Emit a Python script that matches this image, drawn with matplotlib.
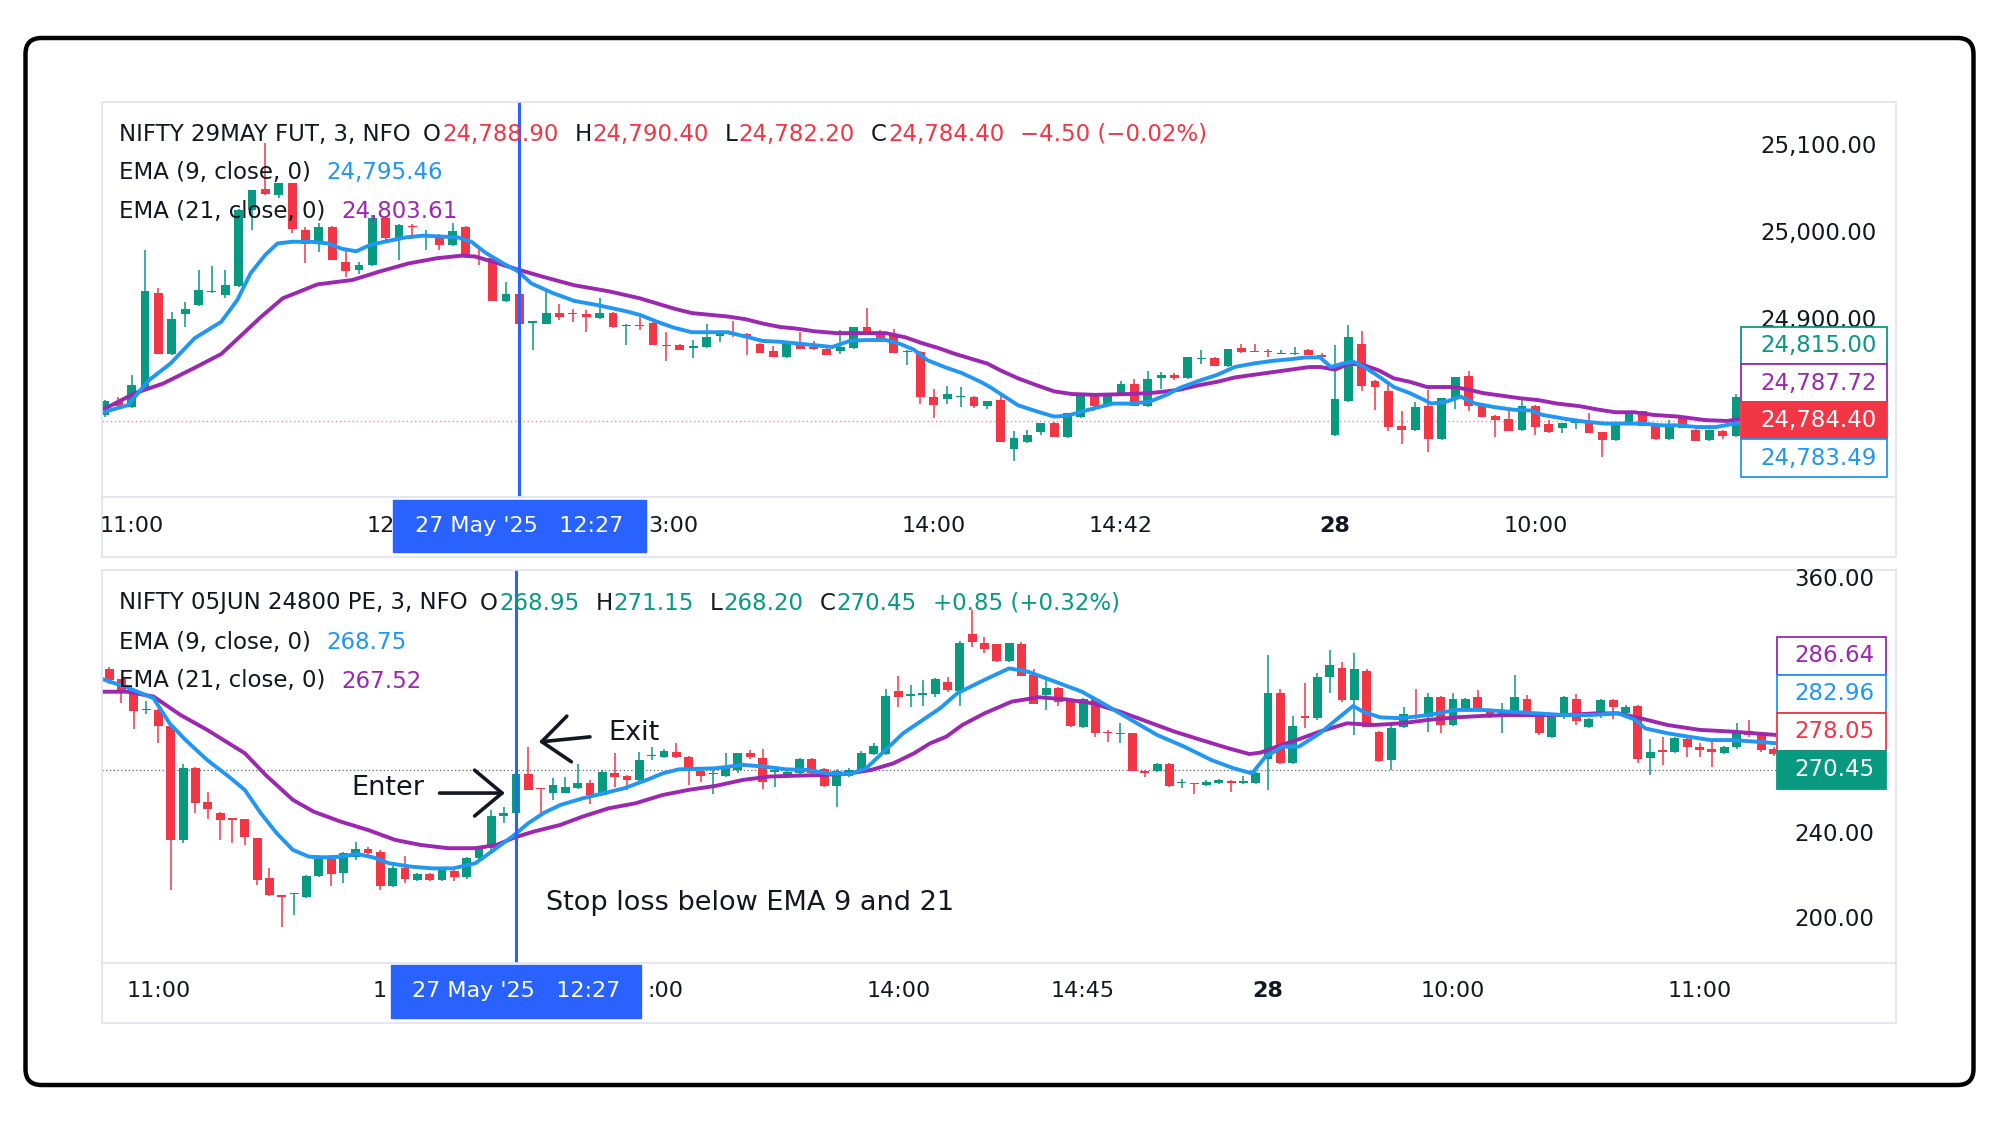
import numpy as np
import matplotlib
matplotlib.use("Agg")
import matplotlib.pyplot as plt
import matplotlib.transforms as mtransforms
from matplotlib.patches import Rectangle, FancyBboxPatch

# ---------------- data ----------------
# NIFTY 29MAY FUT, 3-minute candles (open, high, low, close)
fut_candles = [
    (24791, 24808, 24789, 24807), (24806, 24812, 24799, 24801), (24800, 24837, 24799, 24825),
    (24820, 24980, 24818, 24933), (24931, 24937, 24861, 24861), (24861, 24909, 24860, 24901),
    (24907, 24921, 24892, 24913), (24917, 24957, 24916, 24935), (24932, 24962, 24931, 24933),
    (24929, 24957, 24925, 24940), (24939, 25028, 24938, 25026), (25026, 25050, 25004, 25050),
    (25051, 25103, 25044, 25045), (25044, 25057, 25040, 25057), (25057, 25058, 25000, 25005),
    (25003, 25007, 24965, 24987), (24987, 25011, 24978, 25007), (25007, 25008, 24969, 24969),
    (24967, 24980, 24950, 24956), (24957, 24967, 24953, 24963), (24963, 25021, 24962, 25017),
    (25017, 25019, 24992, 24994), (24992, 25010, 24969, 25009), (25008, 25010, 24993, 25007),
    (24996, 25003, 24980, 24997), (24998, 24999, 24981, 24986), (24986, 25011, 24985, 25002),
    (25007, 25008, 24972, 24973), (24973, 24982, 24963, 24971), (24971, 24972, 24922, 24922),
    (24922, 24944, 24921, 24930), (24930, 24932, 24883, 24896), (24897, 24898, 24865, 24897),
    (24896, 24933, 24895, 24908), (24908, 24919, 24900, 24904), (24908, 24913, 24898, 24907),
    (24907, 24912, 24886, 24904), (24902, 24925, 24901, 24908), (24908, 24909, 24891, 24892),
    (24893, 24895, 24871, 24894), (24894, 24904, 24888, 24893), (24897, 24898, 24871, 24871),
    (24871, 24886, 24853, 24870), (24871, 24873, 24866, 24866), (24868, 24877, 24856, 24869),
    (24869, 24896, 24868, 24880), (24882, 24887, 24875, 24886), (24885, 24899, 24881, 24883),
    (24884, 24885, 24860, 24879), (24873, 24874, 24862, 24862), (24864, 24870, 24858, 24858),
    (24857, 24875, 24856, 24875), (24872, 24886, 24867, 24867), (24868, 24876, 24866, 24867),
    (24867, 24868, 24860, 24860), (24864, 24889, 24861, 24869), (24868, 24892, 24867, 24892),
    (24892, 24914, 24883, 24885), (24885, 24889, 24876, 24876), (24884, 24890, 24862, 24862),
    (24863, 24866, 24848, 24864), (24863, 24864, 24804, 24811), (24812, 24821, 24787, 24802),
    (24809, 24824, 24804, 24815), (24811, 24823, 24800, 24812), (24812, 24813, 24799, 24801),
    (24801, 24806, 24798, 24807), (24808, 24816, 24760, 24760), (24752, 24772, 24738, 24764),
    (24760, 24774, 24759, 24768), (24771, 24782, 24768, 24782), (24782, 24783, 24765, 24765),
    (24766, 24793, 24764, 24793), (24789, 24816, 24787, 24814), (24814, 24816, 24795, 24801),
    (24802, 24815, 24801, 24814), (24814, 24830, 24813, 24826), (24826, 24832, 24801, 24801),
    (24801, 24841, 24800, 24832), (24833, 24840, 24821, 24837), (24837, 24839, 24831, 24833),
    (24833, 24858, 24832, 24858), (24855, 24866, 24850, 24856), (24856, 24857, 24847, 24847),
    (24847, 24867, 24846, 24867), (24868, 24872, 24862, 24863), (24864, 24873, 24863, 24863),
    (24864, 24867, 24858, 24863), (24861, 24866, 24861, 24862), (24861, 24869, 24860, 24862),
    (24866, 24867, 24860, 24860), (24860, 24862, 24855, 24858), (24768, 24871, 24767, 24809),
    (24807, 24894, 24806, 24880), (24872, 24887, 24818, 24824), (24830, 24831, 24797, 24823),
    (24818, 24825, 24772, 24777), (24778, 24795, 24758, 24774), (24774, 24806, 24773, 24800),
    (24801, 24820, 24748, 24763), (24763, 24810, 24762, 24810), (24810, 24834, 24798, 24834),
    (24836, 24841, 24796, 24801), (24802, 24803, 24789, 24789), (24790, 24791, 24766, 24785),
    (24786, 24795, 24772, 24772), (24774, 24812, 24773, 24801), (24801, 24802, 24768, 24777),
    (24781, 24785, 24770, 24771), (24776, 24782, 24770, 24782), (24782, 24783, 24775, 24782.5),
    (24784, 24793, 24770, 24770), (24771, 24771, 24742, 24762), (24762, 24783, 24761, 24782),
    (24782, 24795, 24781, 24795), (24795, 24796, 24778, 24778), (24778, 24779, 24762, 24763),
    (24763, 24785, 24762, 24779), (24789, 24790, 24776, 24776), (24774, 24775, 24761, 24761),
    (24762, 24774, 24761, 24774), (24773, 24774, 24763, 24767), (24767, 24815, 24766, 24812),
]
fut_ema9 = [
    (-0.4, 24793), (1.7, 24802), (3.3, 24831), (4.9, 24850), (6.7, 24879), (8.7, 24898),
    (9.9, 24923), (10.9, 24954), (12.0, 24975), (12.9, 24988), (14.0, 24990), (15.4, 24990),
    (16.7, 24988), (17.7, 24982), (18.8, 24979), (19.8, 24986), (20.9, 24990), (22.5, 24995),
    (23.8, 24997), (25.1, 24996), (26.4, 24995), (27.4, 24990), (28.5, 24977), (29.8, 24965),
    (30.9, 24956), (31.9, 24942), (33.5, 24931), (35.1, 24922), (36.9, 24917), (39.0, 24910),
    (40.0, 24906), (41.3, 24898), (42.6, 24891), (43.9, 24886), (45.2, 24886), (46.6, 24886),
    (47.9, 24881), (49.2, 24876), (50.5, 24875), (51.8, 24873), (53.1, 24871), (54.4, 24869),
    (55.7, 24876), (56.8, 24877), (58.4, 24877), (59.4, 24873), (60.5, 24866), (61.5, 24854),
    (62.8, 24846), (64.1, 24839), (65.5, 24829), (66.2, 24823), (67.3, 24812), (68.3, 24802),
    (69.7, 24795), (71.0, 24789), (72.0, 24790), (73.1, 24795), (74.1, 24799), (75.4, 24804),
    (76.7, 24804), (78.1, 24806), (79.4, 24814), (80.4, 24822), (81.8, 24830), (83.2, 24837),
    (84.5, 24846), (85.9, 24850), (87.3, 24853), (88.7, 24855), (89.8, 24857), (90.9, 24857),
    (91.7, 24846), (92.6, 24850), (93.4, 24852), (94.2, 24846), (95.3, 24835), (96.4, 24823),
    (97.6, 24816), (98.7, 24808), (99.2, 24804), (100.3, 24806), (101.4, 24812), (102.5, 24804),
    (103.9, 24800), (105.3, 24797), (106.7, 24796), (107.5, 24791), (109.4, 24786), (110.8, 24783),
    (112.2, 24781), (113.6, 24781), (115.0, 24781), (116.4, 24779), (117.7, 24779), (119.1, 24777),
    (120.5, 24777), (121.9, 24781), (122.3, 24782),
]
fut_ema21 = [
    (-0.4, 24795), (2.25, 24816), (4.35, 24827), (6.7, 24845), (8.7, 24861), (10.1, 24881),
    (11.7, 24904), (13.3, 24925), (15.9, 24941), (18.5, 24946), (20.6, 24956), (22.7, 24965),
    (24.8, 24971), (26.7, 24974), (27.7, 24973), (29.0, 24967), (30.9, 24958), (32.7, 24950),
    (35.1, 24940), (37.7, 24933), (40.0, 24925), (41.3, 24919), (42.6, 24913), (43.9, 24908),
    (46.6, 24904), (47.9, 24901), (49.2, 24896), (50.5, 24892), (51.8, 24890), (53.1, 24887),
    (54.7, 24885), (56.3, 24885), (58.4, 24885), (59.9, 24880), (61.0, 24874), (62.3, 24868),
    (63.6, 24861), (64.9, 24855), (66.0, 24850), (67.0, 24842), (68.3, 24833), (69.7, 24825),
    (71.0, 24818), (72.3, 24815), (74.1, 24814), (76.7, 24815), (78.1, 24816), (79.4, 24818),
    (80.4, 24820), (81.8, 24825), (83.2, 24829), (84.5, 24834), (85.9, 24837), (87.3, 24840),
    (88.7, 24843), (90.1, 24846), (90.9, 24846), (92.0, 24843), (93.1, 24850), (94.2, 24848),
    (95.3, 24842), (96.4, 24833), (97.6, 24829), (98.9, 24823), (99.8, 24823), (100.9, 24823),
    (102.0, 24820), (103.1, 24816), (104.5, 24813), (105.9, 24810), (107.2, 24808), (108.6, 24804),
    (110.3, 24801), (111.7, 24797), (113.0, 24794), (114.4, 24794), (115.8, 24791), (117.7, 24789),
    (119.7, 24785), (121.3, 24784), (122.3, 24786),
]

# NIFTY 05JUN 24800 PE, 3-minute candles (open, high, low, close)
opt_candles = [
    (318, 319, 311, 313), (313.2, 313.5, 301.8, 307.3), (307, 307.5, 289.6, 298),
    (298.5, 303, 297, 299), (298.7, 299, 283.3, 291.1), (291.1, 291.5, 213.8, 237.4),
    (237.4, 273.2, 235.8, 271.2), (271.5, 272, 250, 255), (255.5, 260.2, 247.1, 251.8),
    (250, 250.5, 237.4, 246.8), (247.2, 247.5, 235.8, 247), (247.2, 247.5, 235, 239),
    (238.2, 238.5, 216, 218.5), (219.3, 224, 211, 211.5), (210.8, 211, 196.5, 210.7),
    (211.8, 212.5, 202, 212), (210.7, 221, 210, 220.4), (220.4, 229, 220, 228.3),
    (228.3, 229, 215.7, 221.4), (221.7, 231.5, 217, 231.1), (229.2, 236.6, 228, 233),
    (233, 234.2, 230.3, 231.1), (231.9, 232.5, 213.8, 215.7), (215.7, 225, 215, 224.3),
    (224, 229.8, 217.3, 218.8), (218.5, 222, 218, 221.4), (221.4, 222, 218, 218.5),
    (218.5, 224, 218, 223.2), (222.9, 224.8, 218.2, 219.8), (219.8, 229.5, 219, 228.7),
    (228.7, 234.6, 228, 233.5), (233.5, 251.5, 231.9, 248.7), (248.7, 253, 245.6, 250),
    (250, 268.8, 249.5, 268.5), (268.5, 281.4, 261, 261), (261.4, 261.7, 250, 261.2),
    (259.3, 266.5, 256.2, 263.3), (259.7, 267.2, 259.7, 262.5), (261.8, 273.2, 261.3, 264.4),
    (264.1, 265.7, 254.4, 258.6), (258.6, 270.2, 258, 269.6), (268.8, 278.6, 262.5, 267.2),
    (267.6, 268, 261, 265.7), (265.7, 279, 265, 275.1), (277, 281.4, 275.1, 277.2),
    (276.4, 280.1, 276, 279.5), (279, 283.3, 276, 276.4), (276.4, 276.8, 263.3, 270.1),
    (270.1, 271.2, 264.9, 267.6), (268.5, 272, 259.1, 268.7), (267.6, 278.3, 267.3, 271.2),
    (270.4, 278.6, 268.8, 278.3), (278.6, 279.8, 275.4, 276.7), (275.9, 280.1, 261.3, 264.9),
    (269.6, 270.4, 262.5, 269.9), (267.3, 270.4, 266.8, 269.6), (269.1, 276, 268.5, 275.4),
    (275.4, 276, 268.5, 269.1), (270.7, 271.2, 262.5, 262.9), (262.8, 271, 253.1, 270.1),
    (267.6, 271.2, 267, 270.4), (270.1, 279.5, 269.6, 278.6), (277.9, 283.3, 277.4, 281.7),
    (277.9, 308.4, 277.4, 305.3), (307.8, 314.7, 300, 305), (305.5, 310.5, 300, 306.2),
    (305.8, 313, 300.5, 306.5), (306.2, 314, 305, 313.2), (312, 314.1, 307.3, 308.1),
    (307.8, 331, 300.6, 330.4), (334.4, 345.9, 328.6, 330.9), (330.1, 333.3, 325.4, 327.3),
    (329.7, 330, 321.5, 322), (322, 330.5, 321.5, 330.1), (329.7, 330.9, 314.5, 314.7),
    (315.2, 317.9, 301.3, 301.5), (305.8, 312.8, 298.7, 308.9), (308.9, 309.7, 300.6, 302.6),
    (303.4, 304, 290.8, 291.1), (290.5, 304.2, 290, 303.7), (303.7, 304, 285.8, 287.7),
    (287.9, 289.3, 283.8, 287.7), (287.4, 292.7, 283, 287.6), (287.7, 288, 269.8, 270.1),
    (269.3, 270.4, 266.9, 269.1), (270.1, 273.9, 269.6, 273.2), (273.2, 273.5, 262.5, 262.9),
    (264.1, 266, 261.8, 264.2), (263.8, 264.4, 259, 263.7), (263.3, 265.5, 262.8, 264.9),
    (264.4, 266, 263.8, 265.7), (265.4, 265.7, 260.2, 264.1), (264.4, 267.6, 263.8, 264.6),
    (264.4, 269.3, 264, 268.8), (275.4, 324.6, 261, 306.9), (306.9, 308.4, 273.2, 273.9),
    (273.9, 295.9, 273, 291.1), (295.9, 311.6, 290, 294.8), (294.8, 316, 294, 314.4),
    (314.4, 327, 306.6, 319.9), (318.3, 321.5, 302.6, 303.4), (303.4, 325.4, 286.9, 317.9),
    (317.2, 318, 290.5, 290.8), (288.5, 289, 274, 274.8), (275.1, 292.4, 270.4, 290),
    (290.5, 300.3, 290, 296.8), (295.6, 308.4, 294.3, 295.2), (295.5, 306.9, 288.5, 305),
    (305, 305.5, 287.7, 291.6), (291.6, 306.6, 291, 303.7), (298.9, 304.5, 298.5, 303.7),
    (304.7, 308.1, 298, 298.7), (298.7, 299.2, 295, 295.6), (295.2, 301.8, 287.7, 298.4),
    (296.8, 315.2, 296, 304.7), (303.7, 305.8, 296, 296.3), (296.3, 296.8, 287, 287.7),
    (286.1, 297, 285.5, 296.3), (295.2, 305.3, 294.5, 304.7), (303.7, 306.2, 291.6, 293.7),
    (290.7, 294.8, 290, 294.3), (295.9, 304, 295, 303.4), (303.4, 304, 294.3, 300),
    (297.4, 300.8, 297, 300.3), (300.6, 301, 273.9, 275.4), (275.9, 284.9, 268, 279),
    (279.1, 286.1, 272.7, 279), (279, 286, 278.5, 285.3), (284.9, 285.5, 276.7, 281.4),
    (281.4, 283, 276.7, 279.8), (280.2, 284.6, 272, 279), (278.6, 281.8, 278, 281.1),
    (281.1, 292.4, 280.5, 288.9), (288.9, 294, 286, 286.9), (287.7, 288.5, 279, 279.8),
    (280.2, 281, 277, 277.9),
]
opt_ema9 = [
    (-0.74, 313.6), (1.43, 309.4), (3.6, 304.2), (4.9, 292.4), (6.2, 284.5), (7.95, 275.1),
    (9.7, 267.3), (11.0, 261.0), (12.3, 250.0), (13.6, 240.5), (14.9, 232.7), (16.2, 229.5),
    (17.5, 229.2), (18.8, 229.5), (20.1, 230.8), (21.4, 229.2), (22.7, 226.4), (24.5, 224.8),
    (26.2, 224.0), (27.9, 224.0), (29.7, 226.4), (31.4, 233.5), (32.7, 239.0), (34.0, 245.3),
    (35.3, 250.3), (36.6, 253.9), (38.4, 257.0), (40.1, 259.4), (41.8, 261.8), (43.6, 265.7),
    (44.9, 268.8), (46.2, 270.7), (47.5, 270.9), (49.2, 271.2), (51.4, 272.8), (53.1, 272.0),
    (54.9, 270.7), (56.6, 270.4), (58.3, 268.8), (60.1, 268.5), (61.4, 271.2), (62.7, 278.3),
    (64.4, 287.7), (66.2, 294.8), (67.4, 299.5), (68.8, 306.6), (71.0, 312.9), (73.0, 318.3),
    (74.5, 316.8), (76.7, 312.1), (78.9, 307.3), (80.6, 301.8), (82.9, 294.0), (85.0, 286.9),
    (87.2, 281.4), (89.4, 275.1), (91.2, 271.2), (92.7, 268.8), (93.8, 276.7), (95.2, 281.4),
    (96.5, 281.4), (98.2, 287.7), (100.0, 296.3), (100.9, 300.6), (101.7, 297.9), (103.1, 295.2),
    (104.8, 294.8), (107.0, 296.3), (109.2, 298.7), (111.4, 298.7), (113.6, 297.9), (115.8, 297.1),
    (118.0, 296.3), (120.2, 296.3), (122.4, 297.1), (123.7, 294.3), (124.6, 290.0), (126.4, 287.7),
    (128.1, 286.1), (129.9, 284.5), (131.6, 284.5), (133.4, 283.8), (135.2, 283.0),
]
opt_ema21 = [
    (-0.74, 307.3), (1.43, 307.3), (3.6, 305.0), (5.8, 296.3), (7.95, 289.3), (11.0, 278.3),
    (12.7, 268.0), (14.9, 256.3), (16.6, 250.7), (18.8, 246.0), (21.0, 242.1), (23.2, 237.4),
    (25.3, 235.0), (27.5, 233.5), (29.7, 233.5), (31.4, 235.0), (32.9, 238.6), (34.4, 241.3),
    (36.6, 244.5), (38.4, 248.4), (40.5, 252.3), (42.7, 254.7), (44.9, 258.6), (47.0, 261.0),
    (49.2, 262.9), (51.4, 265.7), (53.6, 267.3), (55.7, 267.7), (57.9, 268.0), (60.1, 268.8),
    (61.8, 270.4), (63.6, 273.5), (65.3, 278.3), (66.6, 283.0), (67.9, 286.1), (69.2, 291.6),
    (71.0, 297.1), (73.2, 302.6), (75.4, 304.7), (77.6, 303.7), (79.8, 301.8), (82.0, 297.9),
    (84.2, 293.2), (86.4, 288.5), (88.6, 284.5), (90.8, 280.6), (92.5, 277.9), (93.4, 278.6),
    (94.7, 281.4), (96.5, 284.9), (98.2, 288.5), (100.4, 292.4), (102.6, 291.6), (104.8, 292.4),
    (107.0, 294.0), (109.2, 295.2), (111.4, 295.9), (113.6, 296.3), (115.8, 296.3), (118.0, 296.3),
    (120.6, 297.1), (122.4, 297.1), (124.2, 294.8), (126.4, 291.6), (129.0, 289.3), (131.6, 288.5),
    (133.4, 287.7), (135.2, 286.9),
]

fut_tick_pos = [2, 22, 42, 62, 76, 92, 107]
fut_tick_labels = ["11:00", "12:00", "13:00", "14:00", "14:42", "28", "10:00"]
opt_tick_pos = [4, 24, 44, 64, 79, 94, 109, 129]
opt_tick_labels = ["11:00", "12:00", "13:00", "14:00", "14:45", "28", "10:00", "11:00"]
fut_price_ticks = [25100, 25000, 24900]
opt_price_ticks = [360, 240, 200]
fut_last = 24784.40
opt_last = 270.45
fut_box_labels = ["24,815.00", "24,787.72", "24,784.40", "24,783.49"]
opt_box_labels = ["286.64", "282.96", "278.05", "270.45"]
fut_cross_idx = 31
opt_cross_idx = 33
cross_label = "27 May '25   12:27"

fut_legend = [("NIFTY 29MAY FUT, 3, NFO", "k"), ("O", "k"), ("24,788.90", "r"), ("H", "k"),
              ("24,790.40", "r"), ("L", "k"), ("24,782.20", "r"), ("C", "k"),
              ("24,784.40", "r"), ("\u22124.50 (\u22120.02%)", "r")]
fut_ema_legend = [("EMA (9, close, 0)", "24,795.46"), ("EMA (21, close, 0)", "24,803.61")]
opt_legend = [("NIFTY 05JUN 24800 PE, 3, NFO", "k"), ("O", "k"), ("268.95", "g"), ("H", "k"),
              ("271.15", "g"), ("L", "k"), ("268.20", "g"), ("C", "k"),
              ("270.45", "g"), ("+0.85 (+0.32%)", "g")]
opt_ema_legend = [("EMA (9, close, 0)", "268.75"), ("EMA (21, close, 0)", "267.52")]

# ---------------- style ----------------
GREEN = "#089981"
RED = "#F23645"
BLUE = "#2196F3"
PURPLE = "#9C27B0"
CROSS = "#2962FF"
FRAME = "#e0e3eb"
INK = "#131722"
COLMAP = {"k": INK, "r": RED, "g": GREEN}
IDT = mtransforms.IdentityTransform()

W, H = 1999, 1125
DPI = 100
plt.rcParams["font.family"] = ["DejaVu Sans"]
fig = plt.figure(figsize=(W / DPI, H / DPI), dpi=DPI)
fig.patch.set_facecolor("white")
renderer = fig.canvas.get_renderer()


def fx(x):
    return x / W


def fy(y):
    return 1 - y / H


def axes_px(x0, y0, x1, y1):
    ax = fig.add_axes([fx(x0), fy(y1), (x1 - x0) / W, (y1 - y0) / H])
    ax.axis("off")
    return ax


ax_top = axes_px(102, 102, 1740, 497)
ax_bot = axes_px(102, 570, 1776, 962.5)
ax_top.set_xlim(-0.22, 122.3)
ax_top.set_ylim(24696.6, 25150.6)
ax_bot.set_xlim(-0.58, 135.2)
ax_bot.set_ylim(179.6, 364.7)

# panel frames
for (x0, y0, x1, y1, ysep) in [(102, 102, 1896, 557, 497), (102, 570, 1896, 1022.5, 962.5)]:
    fig.add_artist(Rectangle((fx(x0), fy(y1)), (x1 - x0) / W, (y1 - y0) / H,
                             transform=fig.transFigure, fill=False, ec=FRAME, lw=1.2, zorder=0.5))
    fig.add_artist(plt.Line2D([fx(x0), fx(x1)], [fy(ysep), fy(ysep)], transform=fig.transFigure,
                              color=FRAME, lw=1.2, zorder=0.5))

# outer rounded frame
fig.add_artist(FancyBboxPatch((25.5, H - 1085), 1948, 1047,
                              boxstyle="round,pad=0,rounding_size=16",
                              transform=IDT, fill=False, ec="black", lw=3.2, zorder=10))


def draw_candles(ax, candles, width, min_h):
    arr = np.array(candles, dtype=float)
    o, h, l, c = arr[:, 0], arr[:, 1], arr[:, 2], arr[:, 3]
    x = np.arange(len(arr))
    cols = np.where(c >= o, GREEN, RED)
    ax.vlines(x, l, h, colors=cols, lw=1.1, zorder=2)
    bottom = np.minimum(o, c)
    height = np.maximum(np.abs(c - o), min_h)
    ax.bar(x, height, width=width, bottom=bottom, color=cols, linewidth=0, zorder=3)


def draw_ema(ax, pts, color):
    xs = [p[0] for p in pts]
    ys = [p[1] for p in pts]
    ax.plot(xs, ys, color=color, lw=2.8, zorder=4, solid_capstyle="round", solid_joinstyle="round")


draw_candles(ax_top, fut_candles, 0.66, 1.6)
draw_candles(ax_bot, opt_candles, 0.72, 0.6)
draw_ema(ax_top, fut_ema21, PURPLE)
draw_ema(ax_top, fut_ema9, BLUE)
draw_ema(ax_bot, opt_ema21, PURPLE)
draw_ema(ax_bot, opt_ema9, BLUE)

ax_top.axhline(fut_last, color=RED, lw=1.0, ls=(0, (1, 2)), alpha=0.6, zorder=1)
ax_bot.axhline(opt_last, color="#5d606b", lw=0.9, ls=(0, (1, 2)), zorder=1)

ax_top.axvline(fut_cross_idx, color=CROSS, lw=2.2, zorder=6)
ax_bot.axvline(opt_cross_idx, color=CROSS, lw=2.2, zorder=6)

# ---------------- legends ----------------
FS = 16.5


def text_run(x, y, pieces):
    cur = x
    for s, c, gap in pieces:
        t = fig.text(fx(cur), fy(y), s, color=c, fontsize=FS, va="center", ha="left", zorder=7)
        cur += t.get_window_extent(renderer).width + gap


def legend_line(x, y, items):
    pieces = []
    for i, (s, ck) in enumerate(items):
        if i == 0:
            gap = 13
        elif s in ("O", "H", "L", "C"):
            gap = 1
        else:
            gap = 16
        pieces.append((s, COLMAP[ck], gap))
    text_run(x, y, pieces)


legend_line(118.6, 134, fut_legend)
text_run(118.6, 172, [(fut_ema_legend[0][0], INK, 16), (fut_ema_legend[0][1], BLUE, 0)])
text_run(118.6, 211.5, [(fut_ema_legend[1][0], INK, 16), (fut_ema_legend[1][1], PURPLE, 0)])
legend_line(118.6, 603, opt_legend)
text_run(118.6, 642.5, [(opt_ema_legend[0][0], INK, 16), (opt_ema_legend[0][1], BLUE, 0)])
text_run(118.6, 681, [(opt_ema_legend[1][0], INK, 16), (opt_ema_legend[1][1], PURPLE, 0)])

# ---------------- time axes with crosshair date box ----------------
def time_axis(ax, pos, labs, ylab, cross_idx, bw, bh):
    yd = H - ylab
    xcross = ax.transData.transform((cross_idx, 0))[0]
    bx0, bx1 = xcross - bw / 2, xcross + bw / 2
    for p, s in zip(pos, labs):
        xc = ax.transData.transform((p, 0))[0]
        kw = dict(fontsize=16, color=INK, va="center", transform=IDT, zorder=3,
                  fontweight="bold" if s == "28" else "normal")
        t = fig.text(xc, yd, s, ha="center", **kw)
        bb = t.get_window_extent(renderer)
        if bb.x1 > bx0 and bb.x0 < bx1:
            t.remove()
            if bb.x0 < bx0:  # visible part left of the box
                for k in range(len(s), 0, -1):
                    tt = fig.text(bb.x0, yd, s[:k], ha="left", **kw)
                    if tt.get_window_extent(renderer).x1 <= bx0 + 4:
                        break
                    tt.remove()
            elif bb.x1 > bx1:  # visible part right of the box
                for k in range(len(s)):
                    tt = fig.text(bb.x1, yd, s[k:], ha="right", **kw)
                    if tt.get_window_extent(renderer).x0 >= bx1 + 1:
                        break
                    tt.remove()
    fig.add_artist(Rectangle((bx0, yd - bh / 2), bw, bh, transform=IDT, fc=CROSS, ec=CROSS, zorder=8))
    fig.text(xcross, yd, cross_label, transform=IDT, ha="center", va="center",
             color="white", fontsize=16, zorder=9)


time_axis(ax_top, fut_tick_pos, fut_tick_labels, 526, fut_cross_idx, 253, 52)
time_axis(ax_bot, opt_tick_pos, opt_tick_labels, 991, opt_cross_idx, 250, 53)

# ---------------- price scales ----------------
for ax, ticks, fmt, xr in [(ax_top, fut_price_ticks, "{:,.2f}", 1877),
                           (ax_bot, opt_price_ticks, "{:.2f}", 1874)]:
    tr = mtransforms.blended_transform_factory(fig.transFigure, ax.transData)
    for v in ticks:
        fig.text(fx(xr), v, fmt.format(v), transform=tr, ha="right", va="center",
                 fontsize=FS, color=INK, zorder=3)


def value_boxes(ax, anchor, labels, styles, slots, x0, x1, xr, bh):
    ay = ax.transData.transform((0, anchor))[1]
    for s, (fg, bg, ec), k in zip(labels, styles, slots):
        cy = ay - k * bh
        fig.add_artist(Rectangle((x0, cy - bh / 2), x1 - x0, bh, transform=IDT,
                                 fc=bg, ec=ec, lw=1.3, zorder=8))
        fig.text(xr, cy, s, transform=IDT, ha="right", va="center",
                 fontsize=FS, color=fg, zorder=9)


value_boxes(ax_top, fut_last, fut_box_labels,
            [(GREEN, "white", GREEN), (PURPLE, "white", PURPLE), ("white", RED, RED), (BLUE, "white", BLUE)],
            [-2, -1, 0, 1], 1741, 1887, 1877, 37.6)
value_boxes(ax_bot, opt_last, opt_box_labels,
            [(PURPLE, "white", PURPLE), (BLUE, "white", BLUE), (RED, "white", RED), ("white", GREEN, GREEN)],
            [-3, -2, -1, 0], 1777, 1886, 1874, 38.0)

# ---------------- annotations ----------------
ax_bot.text(22.6, 261.9, "Enter", fontsize=19.5, ha="center", va="center", color=INK, zorder=7)
ax_bot.annotate("", xy=(32.1, 259.5), xytext=(26.8, 259.5),
                arrowprops=dict(arrowstyle="->,head_length=0.9,head_width=0.75", lw=2.6,
                                color=INK, mutation_scale=22, shrinkA=0, shrinkB=0), zorder=7)
ax_bot.text(42.6, 287.8, "Exit", fontsize=19.5, ha="center", va="center", color=INK, zorder=7)
ax_bot.annotate("", xy=(34.86, 283.6), xytext=(39.0, 286.0),
                arrowprops=dict(arrowstyle="->,head_length=0.9,head_width=0.75", lw=2.6,
                                color=INK, mutation_scale=22, shrinkA=0, shrinkB=0), zorder=7)
ax_bot.text(52.0, 207.8, "Stop loss below EMA 9 and 21", fontsize=19.5, ha="center", va="center",
            color=INK, zorder=7)

fig.savefig("out.png", dpi=DPI, facecolor="white")
